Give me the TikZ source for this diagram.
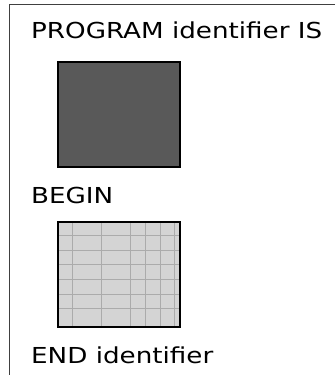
\documentclass[tikz,border=0pt]{standalone}
\usepackage{fontspec}
\setmainfont{DejaVu Sans}
\newcommand{\widetext}[1]{\scalebox{1.19}[1]{#1}}
\begin{document}
\begin{tikzpicture}[x=1pt,y=-1pt,
  frameline/.style={draw=black!75,line width=1pt},
  codetext/.style={anchor=base west,inner sep=0pt,font=\fontsize{22}{26}\selectfont},
  blockbox/.style={draw=black,line width=1.7pt},
  gridline/.style={draw=black!33,line width=0.6pt}]
\useasboundingbox (0,0) rectangle (335,377);
% open frame: top edge and left edge only
\coordinate (tr) at (335,5);
\coordinate (tl) at (9.5,5);
\coordinate (bl) at (9.5,375);
\draw[frameline] (tr) -- (tl) -- (bl);
% header text
\node[codetext] (prog) at (31,39) {\widetext{PROGRAM identifier IS}};
% declarations block
\node[blockbox,fill=black!65,minimum width=122pt,minimum height=105pt,inner sep=0pt,anchor=north west] (decl) at (57,61) {};
\node[codetext] (begin) at (31,203) {\widetext{BEGIN}};
% statements block with grid
\fill[black!17] (57,221) rectangle (179,326);
\foreach \gx in {72,101,130,145,160,174} \draw[gridline] (\gx,221) -- (\gx,326);
\foreach \gy in {235,250,264.5,279,294,308.5} \draw[gridline] (57,\gy) -- (179,\gy);
\node[blockbox,minimum width=122pt,minimum height=105pt,inner sep=0pt,anchor=north west] (stmts) at (57,221) {};
\node[codetext] (endid) at (31,363) {\widetext{END identifier}};
\end{tikzpicture}
\end{document}
